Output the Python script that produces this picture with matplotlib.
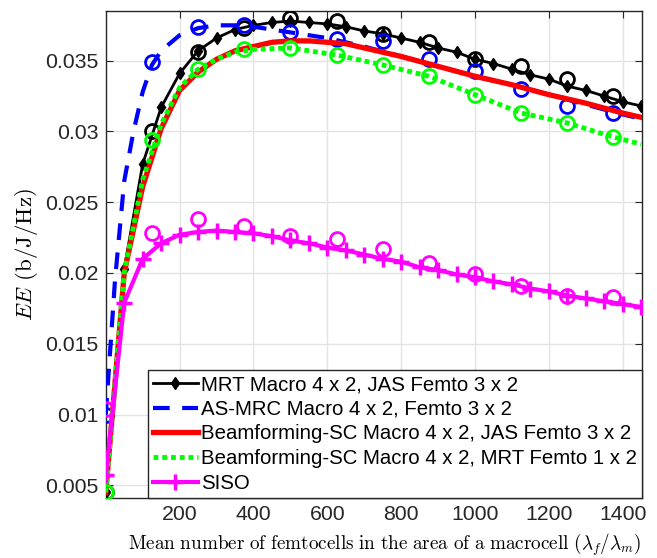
import matplotlib
matplotlib.use("Agg")
import matplotlib.pyplot as plt

# ---------------- data ----------------
x_line = [0, 50, 100, 150, 200, 250, 300, 350, 400, 450, 500, 550, 600, 650, 700,
          750, 800, 850, 900, 950, 1000, 1050, 1100, 1150, 1200, 1250, 1300, 1350, 1400, 1450]
mrt_y = [0.0045, 0.0203, 0.0277, 0.0317, 0.0341, 0.0357, 0.0366, 0.0372, 0.0375, 0.0377,
         0.0378, 0.0377, 0.0376, 0.0374, 0.0371, 0.0369, 0.0366, 0.0363, 0.0359, 0.0356,
         0.0351, 0.0348, 0.0344, 0.0340, 0.0337, 0.0332, 0.0329, 0.0325, 0.0321, 0.0318]
siso_y = [0.0057, 0.0179, 0.0210, 0.0221, 0.0227, 0.0229, 0.0230, 0.0229, 0.0228, 0.0226,
          0.0223, 0.0221, 0.0218, 0.0216, 0.0213, 0.0210, 0.0208, 0.0204, 0.0202, 0.0199,
          0.0197, 0.0194, 0.0192, 0.0189, 0.0187, 0.0184, 0.0182, 0.0180, 0.0178, 0.0176]

x_asmrc = [0, 25, 50, 75, 100, 125, 150, 200, 250, 300, 350, 400, 500, 600, 700, 800,
           900, 1000, 1100, 1200, 1300, 1400, 1450]
asmrc_y = [0.0100, 0.0195, 0.0265, 0.0300, 0.0328, 0.0347, 0.0357, 0.0368, 0.0373, 0.0375,
           0.0375, 0.0374, 0.0370, 0.0366, 0.0360, 0.0353, 0.0346, 0.0339, 0.0333, 0.0326,
           0.0319, 0.0312, 0.0309]

x_bfjas = [0, 50, 100, 150, 200, 250, 300, 350, 400, 450, 500, 550, 600, 650, 700,
           800, 900, 1000, 1100, 1200, 1300, 1400, 1450]
bfjas_y = [0.0045, 0.0200, 0.0261, 0.0302, 0.0329, 0.0342, 0.0351, 0.0357, 0.0360, 0.0363,
           0.0364, 0.0364, 0.0363, 0.0362, 0.0359, 0.0353, 0.0346, 0.0339, 0.0333, 0.0326,
           0.0320, 0.0313, 0.0310]

x_bfmrt = [0, 50, 100, 150, 200, 250, 300, 350, 400, 500, 625, 750, 875, 1000, 1125,
           1250, 1375, 1450]
bfmrt_y = [0.0045, 0.0200, 0.0266, 0.0305, 0.0331, 0.0344, 0.0351, 0.0356, 0.0358, 0.0359,
           0.0354, 0.0347, 0.0339, 0.0326, 0.0313, 0.0306, 0.0296, 0.0291]

# simulation points (circles)
x_sim = [0, 125, 250, 375, 500, 625, 750, 875, 1000, 1125, 1250, 1375]
sim_mrt = [0.0045, 0.0300, 0.0356, 0.0373, 0.0380, 0.0378, 0.0369, 0.0363, 0.0351, 0.0346, 0.0337, 0.0325]
sim_asmrc = [0.0100, 0.0349, 0.0374, 0.0375, 0.0370, 0.0365, 0.0364, 0.0351, 0.0343, 0.0330, 0.0318, 0.0313]
sim_bfmrt = [0.0045, 0.0294, 0.0344, 0.0358, 0.0359, 0.0354, 0.0347, 0.0339, 0.0326, 0.0313, 0.0306, 0.0296]
sim_siso = [0.0104, 0.0228, 0.0238, 0.0233, 0.0226, 0.0224, 0.0217, 0.0207, 0.0199, 0.0191, 0.0184, 0.0183]

labels = ["MRT Macro 4 x 2, JAS Femto 3 x 2",
          "AS-MRC Macro 4 x 2, Femto 3 x 2",
          "Beamforming-SC Macro 4 x 2, JAS Femto 3 x 2",
          "Beamforming-SC Macro 4 x 2, MRT Femto 1 x 2",
          "SISO"]
xticks = [200, 400, 600, 800, 1000, 1200, 1400]
yticks = [0.005, 0.01, 0.015, 0.02, 0.025, 0.03, 0.035]
ytick_labels = ["0.005", "0.01", "0.015", "0.02", "0.025", "0.03", "0.035"]

# ---------------- plot ----------------
plt.rcParams['mathtext.fontset'] = 'cm'
plt.rcParams['font.family'] = ['Liberation Sans', 'DejaVu Sans']

fig = plt.figure(figsize=(6.57, 5.58), dpi=100)
ax = fig.add_axes([0.161, 0.1075, 0.816, 0.8725])

ms = 10
mew = 2.0
h1, = ax.plot(x_line, mrt_y, color='black', lw=2.0, marker='d', ms=6, label=labels[0], zorder=3)
ax.plot(x_sim, sim_mrt, ls='none', marker='o', ms=ms, mfc='none', mec='black', mew=mew, zorder=3)
h2, = ax.plot(x_asmrc, asmrc_y, color='blue', lw=3.0, ls=(0, (4, 3)), label=labels[1], zorder=3)
ax.plot(x_sim, sim_asmrc, ls='none', marker='o', ms=ms, mfc='none', mec='blue', mew=mew, zorder=3)
h3, = ax.plot(x_bfjas, bfjas_y, color='red', lw=3.8, label=labels[2], zorder=3)
h4, = ax.plot(x_bfmrt, bfmrt_y, color=(0, 1, 0), lw=3.5, ls=(0, (1, 0.8)), label=labels[3], zorder=3)
ax.plot(x_sim, sim_bfmrt, ls='none', marker='o', ms=ms, mfc='none', mec=(0, 1, 0), mew=mew, zorder=3)
h5, = ax.plot(x_line, siso_y, color='magenta', lw=3.0, marker='+', ms=12, mew=2.5, label=labels[4], zorder=3)
ax.plot(x_sim, sim_siso, ls='none', marker='o', ms=ms, mfc='none', mec='magenta', mew=mew, zorder=3)

ax.set_xlim(0, 1452)
ax.set_ylim(0.0041, 0.0385)
ax.set_xticks(xticks)
ax.set_xticklabels([str(t) for t in xticks])
ax.set_yticks(yticks)
ax.set_yticklabels(ytick_labels)

frame_col = '#262626'
for s in ax.spines.values():
    s.set_color(frame_col)
    s.set_linewidth(1.0)
ax.tick_params(direction='in', length=5, width=0.8, colors=frame_col, top=True, right=True,
               labelsize=15.3)
ax.tick_params(axis='x', pad=5)
ax.tick_params(axis='y', pad=5)
ax.grid(True, color='#e3e3e3', lw=1.0, zorder=0)
ax.set_axisbelow(True)

ax.set_xlabel(r'$\mathrm{Mean\ number\ of\ femtocells\ in\ the\ area\ of\ a\ macrocell}\ (\lambda_f/\lambda_m)$',
              fontsize=13.8)
ax.xaxis.set_label_coords(0.52, -0.069)
ax.set_ylabel(r'$EE\ \mathrm{(b/J/Hz)}$', fontsize=16.5, labelpad=4)

leg = ax.legend(handles=[h1, h2, h3, h4, h5], loc='lower right', fontsize=14.7,
                frameon=True, fancybox=False, framealpha=1, edgecolor=frame_col,
                borderaxespad=0, handlelength=2.2, handletextpad=0.15,
                labelspacing=0.28, borderpad=0.25)
leg.get_frame().set_linewidth(1.0)

fig.savefig('out.png', dpi=100)
